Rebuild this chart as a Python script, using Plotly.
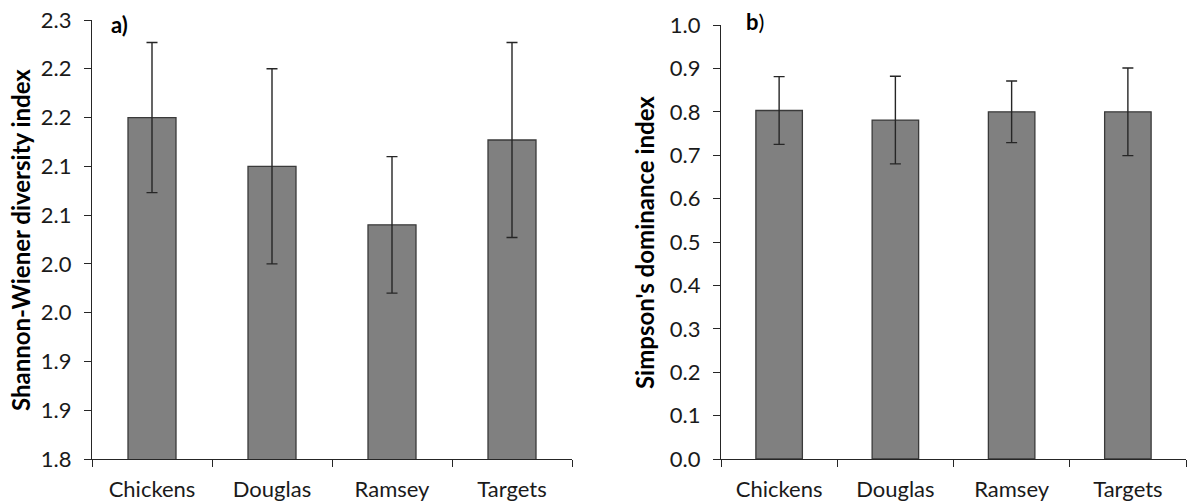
import plotly.graph_objects as go

categories = ["Chickens", "Douglas", "Ramsey", "Targets"]

shannon_mean = [2.150, 2.100, 2.040, 2.127]
shannon_err = [0.077, 0.100, 0.070, 0.100]
shannon_tickvals = [1.80, 1.85, 1.90, 1.95, 2.00, 2.05, 2.10, 2.15, 2.20, 2.25]
shannon_ticktext = ["1.8", "1.9", "1.9", "2.0", "2.0", "2.1", "2.1", "2.2", "2.2", "2.3"]

simpson_mean = [0.803, 0.781, 0.800, 0.800]
simpson_err = [0.078, 0.101, 0.071, 0.101]
simpson_tickvals = [0.0, 0.1, 0.2, 0.3, 0.4, 0.5, 0.6, 0.7, 0.8, 0.9, 1.0]
simpson_ticktext = ["0.0", "0.1", "0.2", "0.3", "0.4", "0.5", "0.6", "0.7", "0.8", "0.9", "1.0"]

W, H = 1189, 501
FONT = "Lato"
TXT = "#1a1a1a"
AX = "#262626"
TICK_SIZE = 22
TITLE_SIZE = 24

def px_x(p):
    return p / W

def px_y(p):
    return 1 - p / H

bar_style = dict(
    marker=dict(color="#808080", line=dict(color="#3a3a3a", width=1.3)),
    showlegend=False,
    width=0.4,
)

fig = go.Figure()
fig.add_trace(go.Bar(
    x=categories, y=shannon_mean, xaxis="x", yaxis="y",
    error_y=dict(type="data", array=shannon_err, visible=True,
                 color=AX, thickness=1.4, width=5.5),
    **bar_style,
))
fig.add_trace(go.Bar(
    x=categories, y=simpson_mean, xaxis="x2", yaxis="y2",
    error_y=dict(type="data", array=simpson_err, visible=True,
                 color=AX, thickness=1.4, width=5.5),
    **bar_style,
))

xcommon = dict(
    type="category", showline=True, linecolor=AX, linewidth=1.3,
    ticks="outside", ticklen=7, tickcolor=AX, tickwidth=1.3,
    tickson="boundaries", showgrid=False, zeroline=False,
    tickfont=dict(family=FONT, size=TICK_SIZE, color=TXT),
    ticklabelstandoff=10, fixedrange=True, automargin=False,
)
ycommon = dict(
    showline=True, linecolor=AX, linewidth=1.3,
    ticks="outside", ticklen=7, tickcolor=AX, tickwidth=1.3,
    showgrid=False, zeroline=False,
    tickfont=dict(family=FONT, size=TICK_SIZE, color=TXT),
    ticklabelstandoff=8, tickmode="array", automargin=False,
)

fig.update_layout(
    width=W, height=H,
    margin=dict(l=0, r=0, t=0, b=0, autoexpand=False),
    paper_bgcolor="white", plot_bgcolor="white",
    bargap=0.6,
    xaxis=dict(domain=[px_x(92), px_x(572)], anchor="y", **xcommon),
    yaxis=dict(domain=[px_y(459), px_y(20)], anchor="x",
               range=[1.80, 2.25], tickvals=shannon_tickvals,
               ticktext=shannon_ticktext, **ycommon),
    xaxis2=dict(domain=[px_x(721), px_x(1186)], anchor="y2", **xcommon),
    yaxis2=dict(domain=[px_y(459), px_y(25)], anchor="x2",
                range=[0.0, 1.0], tickvals=simpson_tickvals,
                ticktext=simpson_ticktext, **ycommon),
    annotations=[
        dict(text="<b>Shannon-Wiener diversity index</b>", textangle=-90,
             x=px_x(20), y=px_y(240), xref="paper", yref="paper",
             showarrow=False, xanchor="center", yanchor="middle",
             font=dict(family=FONT, size=TITLE_SIZE, color="#000000")),
        dict(text="<b>Simpson's dominance index</b>", textangle=-90,
             x=px_x(645), y=px_y(243), xref="paper", yref="paper",
             showarrow=False, xanchor="center", yanchor="middle",
             font=dict(family=FONT, size=TITLE_SIZE, color="#000000")),
        dict(text="<b>a)</b>", x=px_x(109), y=px_y(24),
             xref="paper", yref="paper", showarrow=False,
             xanchor="left", yanchor="middle",
             font=dict(family=FONT, size=TICK_SIZE, color="#000000")),
        dict(text="<b>b</b>)", x=px_x(744), y=px_y(21),
             xref="paper", yref="paper", showarrow=False,
             xanchor="left", yanchor="middle",
             font=dict(family=FONT, size=TICK_SIZE, color="#000000")),
    ],
)

fig.write_html("out.html")
